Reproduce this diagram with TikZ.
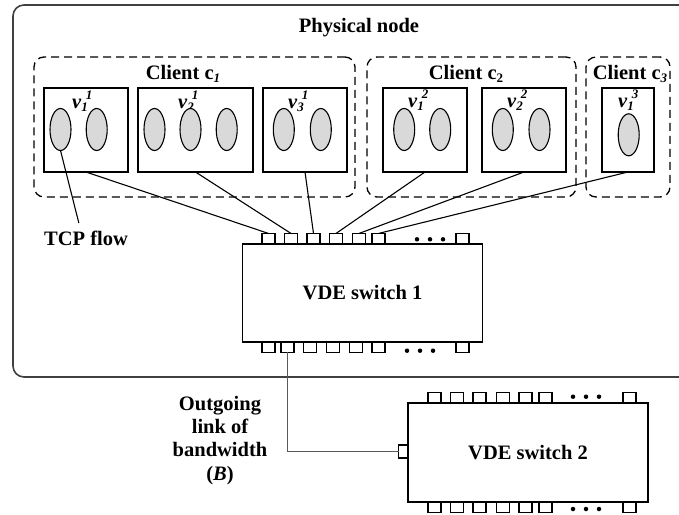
\documentclass[tikz,border=0pt]{standalone}
\usepackage{fontspec}
\setmainfont{Liberation Serif}
\usetikzlibrary{shapes.geometric}

\definecolor{flowgray}{gray}{0.85}
\definecolor{framegray}{gray}{0.25}
\definecolor{linkgray}{gray}{0.35}

\newcommand{\bigtxt}{\fontsize{20.5}{23.3}\selectfont\bfseries}
\newcommand{\subsz}{\fontsize{13}{13}\selectfont\bfseries}
% virtual machine label v_i^j
\newcommand{\vmlab}[2]{\textit{v}\rlap{\raisebox{-3pt}{\subsz\textit{#1}}}\kern4.5pt\raisebox{9pt}{\subsz\textit{#2}}}
% client label with lowered index
\newcommand{\clientlab}[1]{Client c\raisebox{-3pt}{\subsz #1}}

\begin{document}
\begin{tikzpicture}[x=1pt,y=-1pt,
  every node/.style={inner sep=0pt, outer sep=0pt},
  txt/.style={font=\bigtxt, anchor=base},
  vmbox/.style={draw, line width=1.3pt, minimum width=#1, minimum height=84pt},
  flowell/.style={ellipse, draw, line width=1.1pt, fill=flowgray, minimum width=21pt, minimum height=42pt},
  portbox/.style={draw, line width=1.1pt, minimum width=13pt, minimum height=10.5pt},
  sideport/.style={draw, line width=1.1pt, minimum width=10pt, minimum height=13pt},
  grp/.style={draw, dash pattern=on 8pt off 5pt, rounded corners=10pt, line width=1.3pt, minimum height=140pt, minimum width=#1},
  switchbox/.style={draw, line width=1.3pt, minimum width=240pt, minimum height=98pt, font=\bigtxt},
  portdot/.style={circle, fill, minimum size=4.5pt},
  wire/.style={line width=1.1pt},
]
\useasboundingbox (0,0) rectangle (679,514);

% physical node frame (runs past the right border)
\node[draw=framegray, line width=1.6pt, rounded corners=11pt, minimum width=700pt, minimum height=372pt, anchor=north west] (phys) at (13,5) {};
\node[txt] (physlab) at (359,32) {Physical node};

% client groups
\node[grp=321pt] (c1) at (194.5,127) {};
\node[grp=209pt] (c2) at (471.5,127) {};
\node[grp=84pt]  (c3) at (628,127) {};
\node[txt] (c1lab) at (183,79) {\clientlab{\textit{1}}};
\node[txt] (c2lab) at (466,79) {\clientlab{2}};
\node[txt] (c3lab) at (630,79) {\clientlab{\textit{3}}};

% virtual machines
\node[vmbox=84pt]  (v11) at (86,130) {};
\node[vmbox=115pt] (v21) at (195.5,130) {};
\node[vmbox=84pt]  (v31) at (305,130) {};
\node[vmbox=84pt]  (v12) at (425,130) {};
\node[vmbox=84pt]  (v22) at (524,130) {};
\node[vmbox=52pt]  (v13) at (628,130) {};

\node[txt, anchor=base west] (l11) at (72,108) {\vmlab{1}{1}};
\node[txt, anchor=base west] (l21) at (178,108) {\vmlab{2}{1}};
\node[txt, anchor=base west] (l31) at (288,108) {\vmlab{3}{1}};
\node[txt, anchor=base west] (l12) at (408,107) {\vmlab{1}{2}};
\node[txt, anchor=base west] (l22) at (507,107) {\vmlab{2}{2}};
\node[txt, anchor=base west] (l13) at (618,107) {\vmlab{1}{3}};

% TCP flows
\node[flowell] (e11a) at (60.5,129.5) {};
\node[flowell] (e11b) at (96.7,129.5) {};
\node[flowell] (e21a) at (154.5,129.5) {};
\node[flowell] (e21b) at (190.5,129.5) {};
\node[flowell] (e21c) at (226.7,129.5) {};
\node[flowell] (e31a) at (283.8,129.5) {};
\node[flowell] (e31b) at (320.8,129.5) {};
\node[flowell] (e12a) at (404.2,129.5) {};
\node[flowell] (e12b) at (440.2,129.5) {};
\node[flowell] (e22a) at (502.8,129.5) {};
\node[flowell] (e22b) at (539.5,129.5) {};
\node[flowell] (e13a) at (628.7,134.8) {};

\node[txt, inner ysep=8pt] (tcp) at (86,245.5) {TCP flow};
\draw[wire] (e11a.south) -- (tcp.115);

% VDE switch 1 with its ports
\node[switchbox] (sw1) at (362.5,293) {VDE switch 1};
\foreach \x [count=\i] in {268.5,291,313.5,336,359,378.5,462.5}
  \node[portbox] (t\i) at (\x,238.7) {};
\foreach \x [count=\i] in {268.5,287.5,310,333,356,378.5,462.5}
  \node[portbox] (b\i) at (\x,347.2) {};
\foreach \x [count=\i] in {417,430,443}
  \node[portdot] (tdot\i) at (\x,239.3) {};
\foreach \x [count=\i] in {407,420,433}
  \node[portdot] (bdot\i) at (\x,350.7) {};

% VM uplinks
\draw[wire] (v11.south) -- (t1.north);
\draw[wire] (v21.south) -- (t2.north);
\draw[wire] (v31.south) -- (t3.north);
\draw[wire] (v12.south) -- (t4.north);
\draw[wire] (v22.south) -- (t5.north);
\draw[wire] (v13.south) -- (t6.north);

% VDE switch 2 with its ports
\node[switchbox, minimum height=99pt] (sw2) at (528,452.5) {VDE switch 2};
\foreach \x [count=\i] in {434.5,457,479.5,503,525.5,545.5,629.5} {
  \node[portbox] (u\i) at (\x,398) {};
  \node[portbox] (d\i) at (\x,507.2) {};
}
\foreach \x [count=\i] in {573,586,599} {
  \node[portdot] (udot\i) at (\x,396.7) {};
  \node[portdot] (ddot\i) at (\x,509) {};
}
\node[sideport] (lp) at (403.5,451.5) {};

% outgoing link
\draw[wire, draw=linkgray] (b2.south) |- (lp.west);
\node[font=\bigtxt, align=center, anchor=north] (bw) at (220,396) {Outgoing\\link of\\bandwidth\\(\textit{B})};
\end{tikzpicture}
\end{document}
